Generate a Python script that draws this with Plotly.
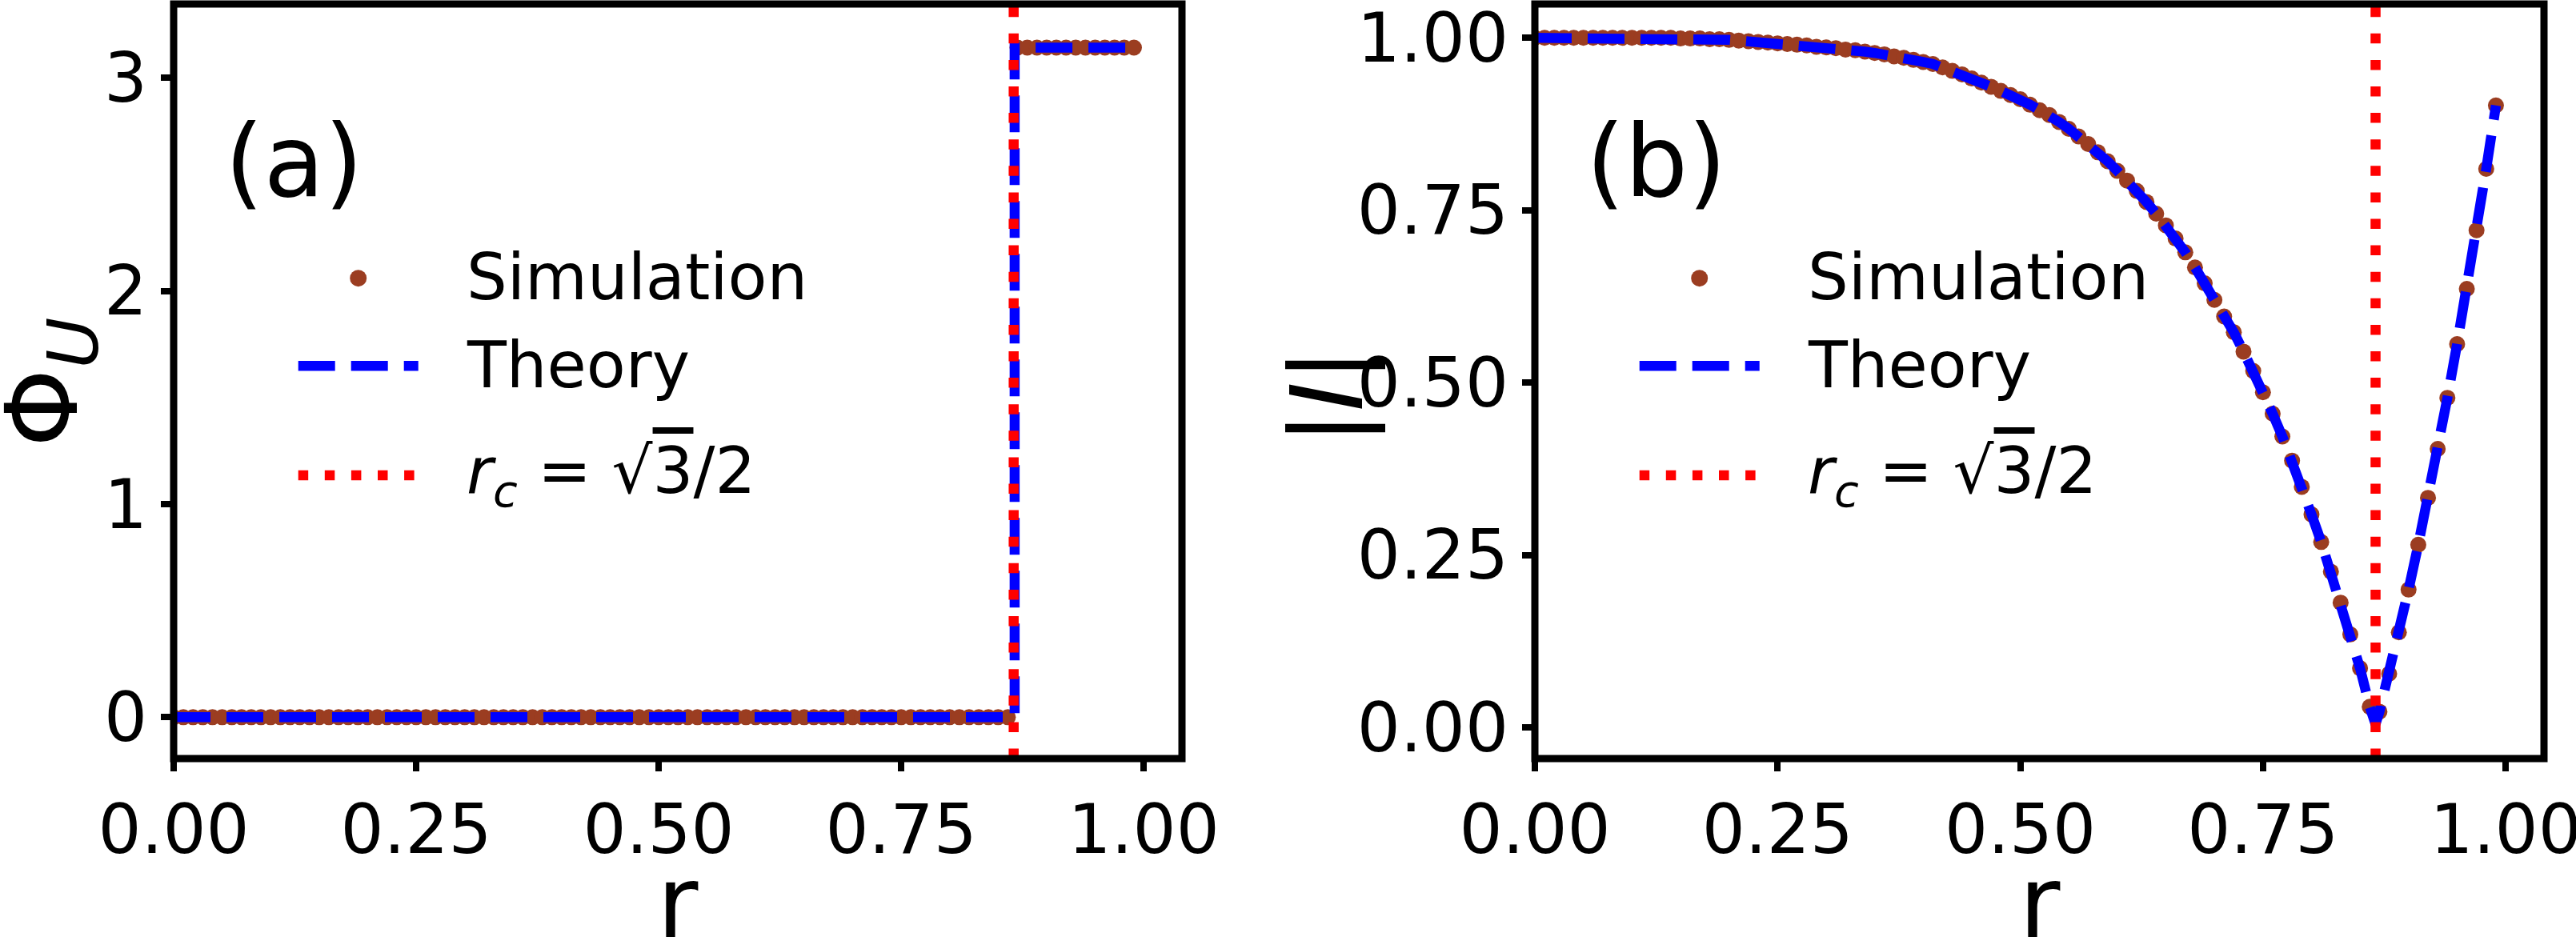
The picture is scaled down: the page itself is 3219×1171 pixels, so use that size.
import plotly.graph_objects as go

# ---------------- data ----------------
r_sim = [0.00, 0.01, 0.02, 0.03, 0.04, 0.05, 0.06, 0.07, 0.08, 0.09,
         0.10, 0.11, 0.12, 0.13, 0.14, 0.15, 0.16, 0.17, 0.18, 0.19,
         0.20, 0.21, 0.22, 0.23, 0.24, 0.25, 0.26, 0.27, 0.28, 0.29,
         0.30, 0.31, 0.32, 0.33, 0.34, 0.35, 0.36, 0.37, 0.38, 0.39,
         0.40, 0.41, 0.42, 0.43, 0.44, 0.45, 0.46, 0.47, 0.48, 0.49,
         0.50, 0.51, 0.52, 0.53, 0.54, 0.55, 0.56, 0.57, 0.58, 0.59,
         0.60, 0.61, 0.62, 0.63, 0.64, 0.65, 0.66, 0.67, 0.68, 0.69,
         0.70, 0.71, 0.72, 0.73, 0.74, 0.75, 0.76, 0.77, 0.78, 0.79,
         0.80, 0.81, 0.82, 0.83, 0.84, 0.85, 0.86, 0.87, 0.88, 0.89,
         0.90, 0.91, 0.92, 0.93, 0.94, 0.95, 0.96, 0.97, 0.98, 0.99]

phase_sim = [0.0] * 87 + [3.1416] * 13

absI_sim = [1.000, 1.000, 1.000, 1.000, 1.000, 1.000, 1.000, 1.000, 1.000, 1.000,
            1.000, 1.000, 1.000, 1.000, 1.000, 0.999, 0.999, 0.999, 0.998, 0.998,
            0.997, 0.996, 0.995, 0.994, 0.993, 0.992, 0.991, 0.990, 0.989, 0.987,
            0.986, 0.985, 0.983, 0.982, 0.980, 0.978, 0.976, 0.973, 0.971, 0.968,
            0.965, 0.962, 0.957, 0.952, 0.947, 0.941, 0.935, 0.929, 0.923, 0.917,
            0.911, 0.903, 0.895, 0.888, 0.878, 0.868, 0.857, 0.846, 0.834, 0.821,
            0.807, 0.793, 0.778, 0.762, 0.745, 0.728, 0.709, 0.689, 0.667, 0.644,
            0.620, 0.596, 0.573, 0.545, 0.517, 0.486, 0.455, 0.422, 0.387, 0.349,
            0.309, 0.269, 0.226, 0.181, 0.135, 0.086, 0.030, 0.023, 0.078, 0.138,
            0.200, 0.265, 0.333, 0.404, 0.478, 0.556, 0.636, 0.721, 0.810, 0.902]

r_c = 0.866

theory_r_a = [0.0, 0.867, 0.867, 0.99]
theory_phase_a = [0.0, 0.0, 3.1416, 3.1416]

theory_r_b = r_sim[:87] + [0.866] + r_sim[87:]
theory_I_b = absI_sim[:87] + [0.005] + absI_sim[87:]

x_ticks = [0.0, 0.25, 0.5, 0.75, 1.0]
x_tick_text = ["0.00", "0.25", "0.50", "0.75", "1.00"]
ya_ticks = [0, 1, 2, 3]
yb_ticks = [0.0, 0.25, 0.5, 0.75, 1.0]
yb_tick_text = ["0.00", "0.25", "0.50", "0.75", "1.00"]

legend_labels = ["Simulation", "Theory",
                 "<i>r</i><sub><i>c</i></sub> = √<span style='text-decoration:overline'>3</span>/2"]

# ---------------- style ----------------
W, H = 3219, 1171
FONT = "DejaVu Sans"
SIM_COLOR = "#9B3D21"
TH_COLOR = "#0000FF"
RC_COLOR = "#FF0000"
LW = 12.5
DASH = "46px,20px"
DOT = "12.5px,20.6px"
MS = 20


def px(X):
    return X / W


def py(Y):
    return 1 - Y / H


dom_a = [217 / W, 1477 / W]
dom_b = [1918 / W, 3179 / W]
dom_y = [py(948), py(5)]

fig = go.Figure()

# panel (a)
fig.add_trace(go.Scatter(x=r_sim, y=phase_sim, mode="markers", name="Simulation",
                         marker=dict(color=SIM_COLOR, size=MS, line=dict(width=0)),
                         xaxis="x", yaxis="y", showlegend=False))
fig.add_trace(go.Scatter(x=theory_r_a, y=theory_phase_a, mode="lines", name="Theory",
                         line=dict(color=TH_COLOR, width=LW, dash=DASH),
                         xaxis="x", yaxis="y", showlegend=False))
# panel (b)
fig.add_trace(go.Scatter(x=r_sim, y=absI_sim, mode="markers", name="Simulation",
                         marker=dict(color=SIM_COLOR, size=MS, line=dict(width=0)),
                         xaxis="x2", yaxis="y2", showlegend=False))
fig.add_trace(go.Scatter(x=theory_r_b, y=theory_I_b, mode="lines", name="Theory",
                         line=dict(color=TH_COLOR, width=LW, dash=DASH),
                         xaxis="x2", yaxis="y2", showlegend=False))

shapes = []
for xr, yr in (("x", "y"), ("x2", "y2")):
    # critical radius line
    shapes.append(dict(type="line", xref=xr, yref=yr + " domain", x0=r_c, x1=r_c, y0=0, y1=1,
                       line=dict(color=RC_COLOR, width=LW, dash=DOT), layer="above"))
    # frame
    shapes.append(dict(type="rect", xref=xr + " domain", yref=yr + " domain", x0=0, x1=1, y0=0, y1=1,
                       line=dict(color="black", width=9), fillcolor="rgba(0,0,0,0)", layer="above"))

annotations = []

# legends drawn by hand (long handles like the reference)
for off in (0, 1676):
    mx = 447.7 + off
    shapes.append(dict(type="circle", xref="paper", yref="paper",
                       x0=px(mx - 10.5), x1=px(mx + 10.5), y0=py(347.7 + 10.5), y1=py(347.7 - 10.5),
                       fillcolor=SIM_COLOR, line=dict(width=0), layer="above"))
    shapes.append(dict(type="line", xref="paper", yref="paper",
                       x0=px(372.7 + off), x1=px(522.7 + off), y0=py(457.3), y1=py(457.3),
                       line=dict(color=TH_COLOR, width=LW, dash=DASH), layer="above"))
    shapes.append(dict(type="line", xref="paper", yref="paper",
                       x0=px(372.7 + off), x1=px(522.7 + off), y0=py(594), y1=py(594),
                       line=dict(color=RC_COLOR, width=LW, dash=DOT), layer="above"))
    for lab, yc in zip(legend_labels, (347, 456.5, 594)):
        annotations.append(dict(text=lab, xref="paper", yref="paper", x=px(581 + off), y=py(yc),
                                xanchor="left", yanchor="middle", showarrow=False,
                                font=dict(family=FONT, size=80, color="black")))

# panel labels
for lab, X in (("(a)", 367.5), ("(b)", 367.5 + 1702)):
    annotations.append(dict(text=lab, xref="paper", yref="paper", x=px(X), y=py(202),
                            xanchor="center", yanchor="middle", showarrow=False,
                            font=dict(family=FONT, size=124, color="black")))

# axis titles
for X in ((217 + 1477) / 2, (1918 + 3179) / 2):
    annotations.append(dict(text="r", xref="paper", yref="paper", x=px(X), y=py(1127),
                            xanchor="center", yanchor="middle", showarrow=False,
                            font=dict(family=FONT, size=125, color="black")))
annotations.append(dict(text="Φ<sub><i>U</i></sub>", xref="paper", yref="paper", x=px(62), y=py(478),
                        xanchor="center", yanchor="middle", showarrow=False, textangle=-90,
                        font=dict(family=FONT, size=125, color="black")))
annotations.append(dict(text="|<i>I</i>|", xref="paper", yref="paper", x=px(1658), y=py(496),
                        xanchor="center", yanchor="middle", showarrow=False, textangle=-90,
                        font=dict(family=FONT, size=125, color="black")))

axis_common = dict(showgrid=False, zeroline=False, showline=False, ticks="outside",
                   ticklen=15, tickwidth=8, tickcolor="black", automargin=False,
                   ticklabeloverflow="allow",
                   tickfont=dict(family=FONT, size=85, color="black"))

fig.update_layout(
    width=W, height=H,
    margin=dict(l=0, r=0, t=0, b=0),
    paper_bgcolor="white", plot_bgcolor="white",
    showlegend=False,
    xaxis=dict(domain=dom_a, range=[0, 1.0395], tickvals=x_ticks, ticktext=x_tick_text,
               anchor="y", **axis_common),
    yaxis=dict(domain=dom_y, range=[-0.194, 3.346], tickvals=ya_ticks,
               anchor="x", **axis_common),
    xaxis2=dict(domain=dom_b, range=[0, 1.0395], tickvals=x_ticks, ticktext=x_tick_text,
                anchor="y2", **axis_common),
    yaxis2=dict(domain=dom_y, range=[-0.045, 1.049], tickvals=yb_ticks, ticktext=yb_tick_text,
                anchor="x2", **axis_common),
    shapes=shapes,
    annotations=annotations,
)

fig.write_html("out.html", post_script="document.body.style.margin='0';document.body.style.padding='0';")
